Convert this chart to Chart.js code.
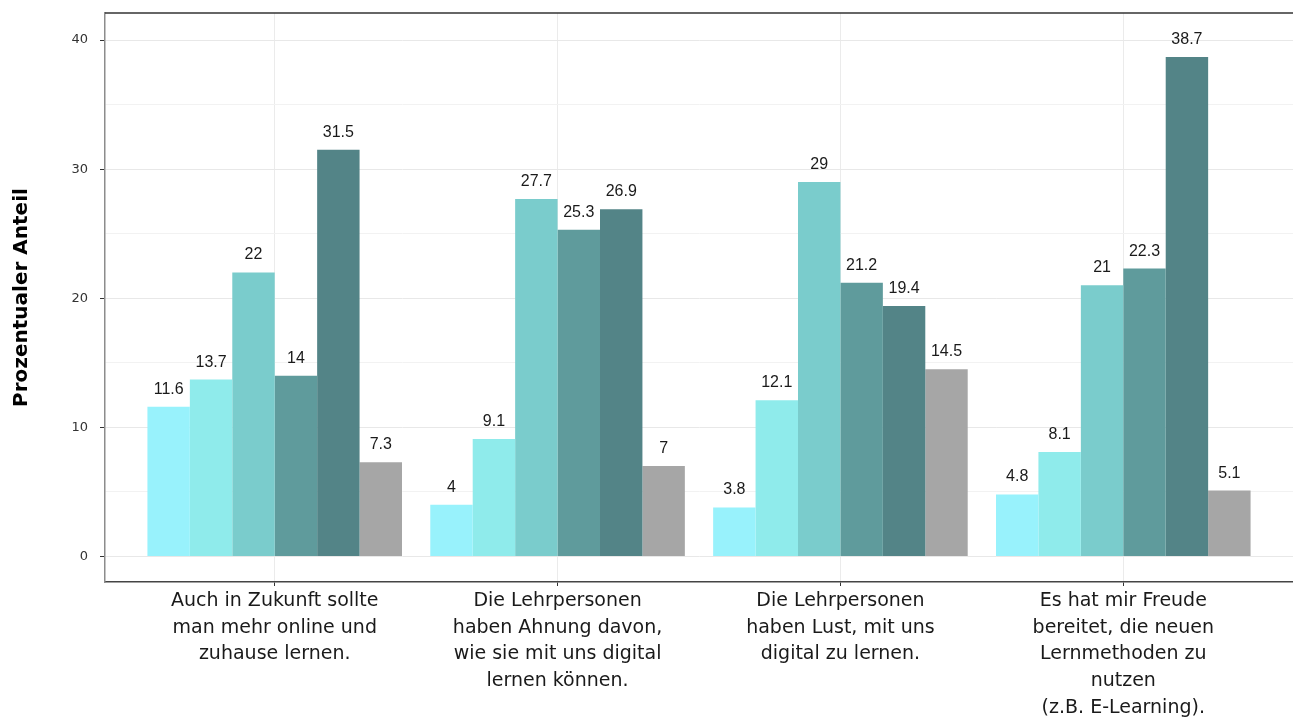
<!DOCTYPE html>
<html lang="de">

<head>
  <meta charset="UTF-8">
  <title>Prozentualer Anteil</title>
  <script src="https://cdn.jsdelivr.net/npm/chart.js"></script>
  <style>
    body {
      margin: 0;
      background: #ffffff;
    }

    .chart-container {
      position: relative;
      width: 1293px;
      height: 722px;
    }
  </style>
</head>

<body>
  <div class="chart-container">
    <canvas id="anteilChart"></canvas>
  </div>

  <script>
    const categories = [
      ['Auch in Zukunft sollte', 'man mehr online und', 'zuhause lernen.'],
      ['Die Lehrpersonen', 'haben Ahnung davon,', 'wie sie mit uns digital', 'lernen können.'],
      ['Die Lehrpersonen', 'haben Lust, mit uns', 'digital zu lernen.'],
      ['Es hat mir Freude', 'bereitet, die neuen', 'Lernmethoden zu', 'nutzen', '(z.B. E-Learning).']
    ];

    // one array per answer level, values in category order
    const stufe1 = [11.6, 4, 3.8, 4.8];
    const stufe2 = [13.7, 9.1, 12.1, 8.1];
    const stufe3 = [22, 27.7, 29, 21];
    const stufe4 = [14, 25.3, 21.2, 22.3];
    const stufe5 = [31.5, 26.9, 19.4, 38.7];
    const keineAngabe = [7.3, 7, 14.5, 5.1];

    const yTicks = [0, 5, 10, 15, 20, 25, 30, 35, 40];

    const series = [stufe1, stufe2, stufe3, stufe4, stufe5, keineAngabe];
    const colors = ['#98f2fc', '#8febeb', '#7acccc', '#5f9b9c', '#538487', '#a6a6a6'];

    const tickFont = "'DejaVu Sans', sans-serif";

    // value labels above each bar
    const barLabels = {
      id: 'barLabels',
      afterDatasetsDraw(chart) {
        const ctx = chart.ctx;
        ctx.save();
        ctx.font = "16px 'Liberation Sans', Arial, sans-serif";
        ctx.fillStyle = '#1a1a1a';
        ctx.textAlign = 'center';
        ctx.textBaseline = 'alphabetic';
        chart.data.datasets.forEach((ds, i) => {
          chart.getDatasetMeta(i).data.forEach((bar, j) => {
            ctx.fillText(String(ds.data[j].y), bar.x, bar.y - 13);
          });
        });
        ctx.restore();
      }
    };

    // dark frame line along the top of the panel
    const topBorder = {
      id: 'topBorder',
      afterDraw(chart) {
        const { ctx, chartArea } = chart;
        ctx.save();
        ctx.strokeStyle = '#333333';
        ctx.lineWidth = 1.5;
        ctx.beginPath();
        ctx.moveTo(chartArea.left, chartArea.top);
        ctx.lineTo(chartArea.right, chartArea.top);
        ctx.stroke();
        ctx.restore();
      }
    };

    new Chart(document.getElementById('anteilChart').getContext('2d'), {
      type: 'bar',
      data: {
        datasets: series.map((values, i) => ({
          label: 'Stufe ' + (i + 1),
          data: values.map((v, j) => ({ x: j, y: v })),
          backgroundColor: colors[i],
          borderWidth: 0,
          categoryPercentage: 0.9,
          barPercentage: 1.0
        }))
      },
      options: {
        responsive: true,
        maintainAspectRatio: false,
        animation: false,
        layout: {
          padding: { top: 13, right: 0, left: 0, bottom: 0 }
        },
        plugins: {
          legend: { display: false },
          tooltip: { enabled: false }
        },
        scales: {
          x: {
            type: 'linear',
            offset: false,
            min: -0.6,
            max: 3.6,
            afterBuildTicks: scale => {
              scale.ticks = categories.map((c, i) => ({ value: i }));
            },
            afterFit: scale => {
              scale.height = 140;
            },
            ticks: {
              callback: value => categories[value],
              color: '#1a1a1a',
              font: { family: tickFont, size: 19, lineHeight: 1.4 },
              padding: 2,
              maxRotation: 0,
              autoSkip: false
            },
            grid: {
              offset: false,
              color: '#ebebeb',
              tickColor: '#333333',
              tickLength: 4,
              lineWidth: 1
            },
            border: { color: '#444444', width: 1.5 }
          },
          y: {
            min: -1.98,
            max: 42.1,
            afterBuildTicks: scale => {
              scale.ticks = yTicks.map(v => ({ value: v }));
            },
            afterFit: scale => {
              scale.width = 105;
              // keep the panel top where the layout padding puts it
              scale.paddingTop = 0;
              scale.paddingBottom = 0;
            },
            ticks: {
              callback: value => (value % 10 === 0 ? value : ''),
              color: '#333333',
              font: { family: tickFont, size: 13 },
              padding: 12
            },
            grid: {
              color: ctx => (ctx.tick && ctx.tick.value % 10 === 0 ? '#e8e8e8' : '#f2f2f2'),
              tickColor: ctx => (ctx.tick && ctx.tick.value % 10 === 0 ? '#333333' : 'rgba(0,0,0,0)'),
              tickLength: 5,
              lineWidth: 1
            },
            border: { color: '#8c8c8c', width: 1.5 },
            title: {
              display: true,
              text: 'Prozentualer Anteil',
              color: '#000000',
              font: { family: tickFont, size: 20, weight: 'bold', lineHeight: 1.2 },
              padding: { top: 10, bottom: 0 }
            }
          }
        }
      },
      plugins: [barLabels, topBorder]
    });
  </script>
</body>

</html>
